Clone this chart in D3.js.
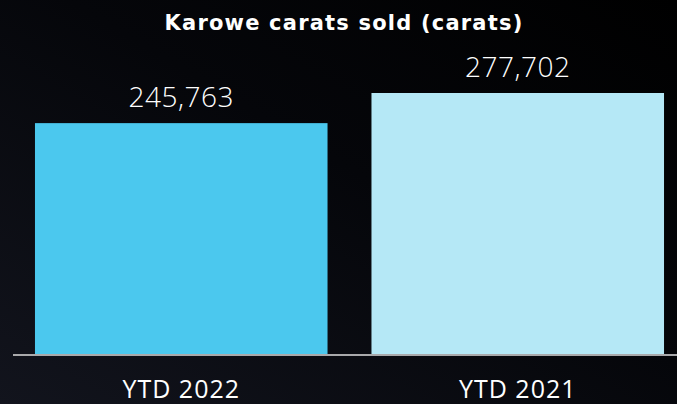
<!DOCTYPE html>
<html>
<head>
<meta charset="utf-8">
<script src="https://cdn.jsdelivr.net/npm/d3@7"></script>
<style>
  body { margin: 0; background: #000; }
  svg { display: block; }
</style>
</head>
<body>
<div id="chart"></div>
<script>
// data
var categories = ["YTD 2022", "YTD 2021"];
var values = [245763, 277702];
var barColors = ["#4bc8ee", "#b5e8f6"];
var title = "Karowe carats sold (carats)";

var svgWidth = 677, svgHeight = 404;
var baseY = 355;

var svg = d3.select("#chart").append("svg")
  .attr("width", svgWidth)
  .attr("height", svgHeight);

// dark background, a touch bluish toward the bottom left
var defs = svg.append("defs");
var grad = defs.append("linearGradient")
  .attr("id", "bg")
  .attr("x1", "100%").attr("y1", "0%")
  .attr("x2", "0%").attr("y2", "100%");
grad.append("stop").attr("offset", "0%").attr("stop-color", "#000000");
grad.append("stop").attr("offset", "45%").attr("stop-color", "#05060a");
grad.append("stop").attr("offset", "100%").attr("stop-color", "#12141d");
svg.append("rect")
  .attr("width", svgWidth).attr("height", svgHeight)
  .attr("fill", "url(#bg)");

var x = d3.scaleBand()
  .domain(categories)
  .range([13, 686])
  .paddingInner(0.1306)
  .paddingOuter(0.0653);

// 277,702 reaches 262px above the baseline
var y = d3.scaleLinear()
  .domain([0, 277702 * 355 / 262])
  .range([baseY, 0]);

svg.append("text")
  .attr("x", 344)
  .attr("y", 30)
  .attr("text-anchor", "middle")
  .attr("fill", "#ffffff")
  .style("font-family", "'DejaVu Sans', sans-serif")
  .style("font-weight", 700)
  .style("font-size", "21px")
  .style("letter-spacing", "1.2px")
  .text(title);

var bars = svg.selectAll(".bar").data(values).enter();

bars.append("rect")
  .attr("class", "bar")
  .attr("x", (d, i) => x(categories[i]))
  .attr("width", x.bandwidth())
  .attr("y", d => y(d))
  .attr("height", d => baseY - y(d))
  .attr("fill", (d, i) => barColors[i]);

bars.append("text")
  .attr("x", (d, i) => x(categories[i]) + x.bandwidth() / 2)
  .attr("y", d => y(d) - 16)
  .attr("text-anchor", "middle")
  .attr("fill", "#ffffff")
  .style("font-family", "'Open Sans', sans-serif")
  .style("font-weight", 300)
  .style("font-size", "28px")
  .style("letter-spacing", "0.5px")
  .text(d => d3.format(",")(d));

// baseline
svg.append("line")
  .attr("x1", 13).attr("x2", svgWidth)
  .attr("y1", baseY).attr("y2", baseY)
  .attr("stroke", "#a9a9ab")
  .attr("stroke-width", 2);

svg.selectAll(".cat").data(categories).enter()
  .append("text")
  .attr("class", "cat")
  .attr("x", d => x(d) + x.bandwidth() / 2)
  .attr("y", 398)
  .attr("text-anchor", "middle")
  .attr("fill", "#ffffff")
  .style("font-family", "'Open Sans', sans-serif")
  .style("font-weight", 400)
  .style("font-size", "25px")
  .style("letter-spacing", "1px")
  .text(d => d);
</script>
</body>
</html>
